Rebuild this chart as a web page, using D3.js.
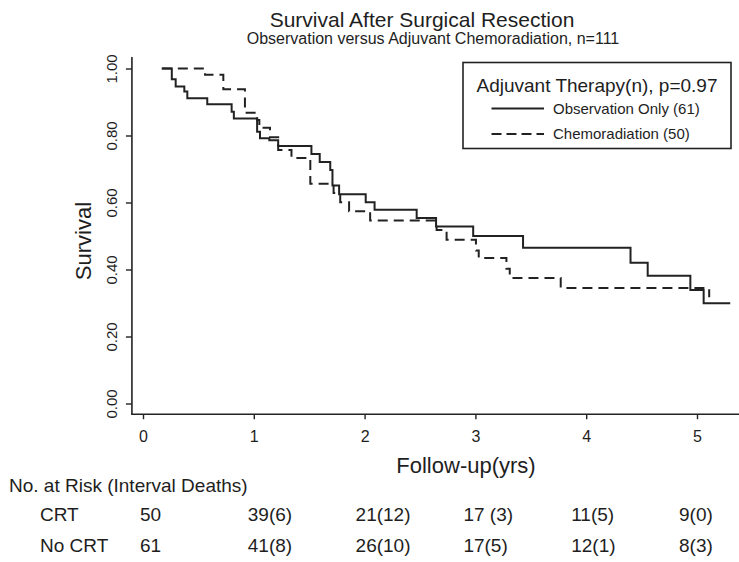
<!DOCTYPE html>
<html><head><meta charset="utf-8">
<script src="https://cdn.jsdelivr.net/npm/d3@7"></script>
<style>
body{margin:0;background:#fff}
svg{display:block}
text{font-family:"Liberation Sans",Arial,Helvetica,sans-serif;fill:#1e1e1e}
</style>
</head><body>
<svg id="chart" width="739" height="562"></svg>
<script>
// ---- data ----
const obsTimes = [0.17,0.26,0.295,0.373,0.40,0.58,0.80,0.82,1.03,1.056,1.14,1.22,1.52,1.595,1.69,1.71,1.77,2.01,2.09,2.47,2.645,2.98,3.43,4.40,4.555,4.94,5.06,5.30];
const obsSurv  = [1.0,0.968,0.946,0.931,0.911,0.893,0.871,0.851,0.811,0.792,0.786,0.769,0.745,0.721,0.697,0.651,0.625,0.601,0.578,0.554,0.528,0.500,0.465,0.420,0.381,0.339,0.299,0.299];
const crtTimes = [0.17,0.56,0.725,0.92,1.03,1.05,1.146,1.22,1.34,1.51,1.72,1.78,1.86,2.05,2.65,2.74,3.005,3.03,3.28,3.31,3.77,5.11];
const crtSurv  = [1.0,0.981,0.938,0.868,0.846,0.823,0.795,0.757,0.733,0.656,0.628,0.601,0.574,0.546,0.518,0.489,0.457,0.434,0.402,0.375,0.345,0.317];
const xTicks = [0,1,2,3,4,5];
const yTicks = [0,0.2,0.4,0.6,0.8,1.0];
const seriesNames = ["Observation Only (61)","Chemoradiation (50)"];
const legendTitle = "Adjuvant Therapy(n), p=0.97";
const riskTimes = [0,1,2,3,4,5];
const riskGroups = ["CRT","No CRT"];
const crtRisk = ["50","39(6)","21(12)","17 (3)","11(5)","9(0)"];
const noCrtRisk = ["61","41(8)","26(10)","17(5)","12(1)","8(3)"];

// ---- scales ----
const svg = d3.select("#chart");
const x = d3.scaleLinear().domain([0,5]).range([143,697]);
const y = d3.scaleLinear().domain([0,1]).range([403.5,68.5]);
const tableX = d3.scaleLinear().domain([0,5]).range([140,679]);
const ink = "#222";

// titles
svg.append("text").attr("x",422).attr("y",27).attr("text-anchor","middle")
  .style("font-size","21px").text("Survival After Surgical Resection");
svg.append("text").attr("x",433).attr("y",44).attr("text-anchor","middle")
  .style("font-size","16px").text("Observation versus Adjuvant Chemoradiation, n=111");

// axes
const yAxis = d3.axisLeft(y).tickValues(yTicks).tickFormat(d3.format(".2f")).tickSize(6).tickSizeOuter(0);
const gy = svg.append("g").attr("transform",`translate(${x(-0.1)},0)`).call(yAxis);
gy.select(".domain").remove();
gy.selectAll(".tick line").attr("stroke",ink).attr("stroke-width",1.4);
gy.selectAll(".tick text").attr("x",null).attr("dy",null).attr("text-anchor","middle")
  .attr("transform","translate(-15,0) rotate(-90)")
  .style("font-size","15px").style("font-family","'Liberation Sans',Arial,sans-serif").attr("fill","#1e1e1e");

const xAxis = d3.axisBottom(x).tickValues(xTicks).tickFormat(d3.format("d")).tickSize(5).tickSizeOuter(0);
const gx = svg.append("g").attr("transform",`translate(0,${y(-0.032)})`).call(xAxis);
gx.select(".domain").remove();
gx.selectAll(".tick line").attr("stroke",ink).attr("stroke-width",1.4);
gx.selectAll(".tick text").attr("dy",null).attr("y",27.5)
  .style("font-size","16px").style("font-family","'Liberation Sans',Arial,sans-serif").attr("fill","#1e1e1e");

// axis lines
svg.append("line").attr("x1",x(-0.1)).attr("x2",x(-0.1)).attr("y1",y(1.034)).attr("y2",y(-0.032))
  .attr("stroke",ink).attr("stroke-width",1.6);
svg.append("line").attr("x1",x(-0.1)-0.8).attr("x2",739).attr("y1",y(-0.032)).attr("y2",y(-0.032))
  .attr("stroke",ink).attr("stroke-width",1.6);

// axis titles
svg.append("text").attr("transform",`translate(91,241) rotate(-90)`).attr("text-anchor","middle")
  .style("font-size","22px").text("Survival");
svg.append("text").attr("x",466).attr("y",473).attr("text-anchor","middle")
  .style("font-size","22px").text("Follow-up(yrs)");

// curves
const line = d3.line().x(d=>x(d[0])).y(d=>y(d[1])).curve(d3.curveStepAfter);
const obsData = obsTimes.map((t,i)=>[t,obsSurv[i]]);
const crtData = crtTimes.map((t,i)=>[t,crtSurv[i]]);
svg.append("path").datum(crtData).attr("d",line).attr("fill","none")
  .attr("stroke",ink).attr("stroke-width",2).attr("stroke-dasharray","10,6");
svg.append("path").datum(obsData).attr("d",line).attr("fill","none")
  .attr("stroke",ink).attr("stroke-width",2);

// legend
const lg = svg.append("g");
lg.append("rect").attr("x",463).attr("y",62.5).attr("width",268).attr("height",86)
  .attr("fill","#fff").attr("stroke",ink).attr("stroke-width",1.6);
lg.append("text").attr("x",597).attr("y",91.5).attr("text-anchor","middle")
  .style("font-size","19px").text(legendTitle);
const dashes = [null,"10,5"];
seriesNames.forEach((name,i)=>{
  const yy = 108.5 + i*25.5;
  lg.append("line").attr("x1",491.5).attr("x2",544).attr("y1",yy).attr("y2",yy)
    .attr("stroke",ink).attr("stroke-width",1.8).attr("stroke-dasharray",dashes[i]);
  lg.append("text").attr("x",553).attr("y",yy+5).style("font-size","15px").text(name);
});

// risk table
svg.append("text").attr("x",9).attr("y",492).style("font-size","19px").text("No. at Risk (Interval Deaths)");
const rows = [crtRisk, noCrtRisk];
rows.forEach((vals,r)=>{
  const by = 521 + r*31;
  svg.append("text").attr("x",40).attr("y",by).style("font-size","19px").text(riskGroups[r]);
  svg.append("g").selectAll("text").data(vals).join("text")
    .attr("x",(d,i)=>tableX(riskTimes[i])).attr("y",by)
    .style("font-size","19px").text(d=>d);
});
</script>
</body></html>
